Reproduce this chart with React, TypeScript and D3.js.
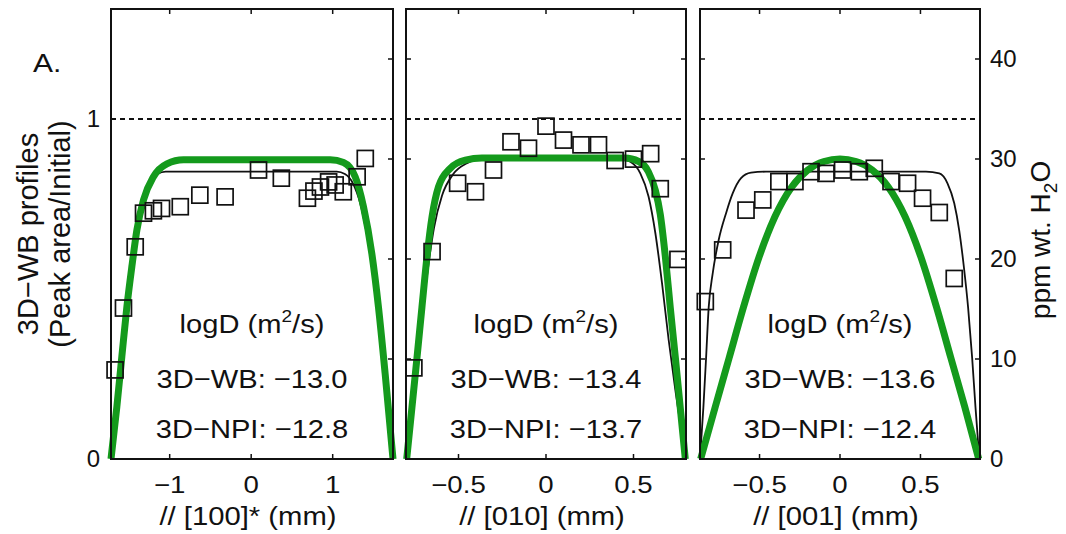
import React from 'react';
import * as d3 from 'd3';

// ---------- data ----------
const axisTitles = ['// [100]* (mm)', '// [010] (mm)', '// [001] (mm)'];
const wbLogD = ['−13.0', '−13.4', '−13.6'];
const npiLogD = ['−12.8', '−13.7', '−12.4'];
const xTicks1 = [-1, 0, 1];
const xTicks2 = [-0.5, 0, 0.5];
const xTicks3 = [-0.5, 0, 0.5];
const ppmTicks = [0, 10, 20, 30, 40];
const normTicks = [0, 1];
const initialPpm = 34;
const ppmMax = 45;

// measured profiles (x in mm, y = peak area / initial)
const squares1: [number, number][] = [
  [-1.67, 0.262], [-1.567, 0.444], [-1.423, 0.624], [-1.321, 0.723], [-1.2, 0.73],
  [-1.1, 0.737], [-0.87, 0.742], [-0.63, 0.776], [-0.32, 0.771], [0.09, 0.85],
  [0.37, 0.826], [0.69, 0.767], [0.77, 0.788], [0.85, 0.8], [0.95, 0.815],
  [1.03, 0.806], [1.13, 0.786], [1.3, 0.83], [1.4, 0.884],
];
const squares2: [number, number][] = [
  [-0.755, 0.268], [-0.651, 0.61], [-0.505, 0.811], [-0.403, 0.786], [-0.3, 0.85],
  [-0.2, 0.933], [-0.1, 0.914], [0.0, 0.979], [0.1, 0.938], [0.2, 0.924],
  [0.3, 0.924], [0.395, 0.878], [0.5, 0.882], [0.598, 0.898], [0.653, 0.795],
  [0.754, 0.587],
];
const squares3: [number, number][] = [
  [-0.837, 0.463], [-0.729, 0.615], [-0.584, 0.732], [-0.48, 0.762], [-0.38, 0.816],
  [-0.28, 0.816], [-0.18, 0.845], [-0.087, 0.84], [0.016, 0.85], [0.12, 0.845],
  [0.213, 0.855], [0.317, 0.816], [0.42, 0.811], [0.513, 0.767], [0.617, 0.725],
  [0.71, 0.531],
];

// 3D-WB model (black)
const wb1: [number, number][] = [
  [-1.72, 0], [-1.65, 0.16], [-1.59, 0.31], [-1.53, 0.455], [-1.47, 0.575], [-1.41, 0.675],
  [-1.34, 0.75], [-1.25, 0.81], [-1.15, 0.838], [-1.05, 0.845], [1.05, 0.845],
  [1.15, 0.838], [1.25, 0.81], [1.34, 0.75], [1.42, 0.66], [1.5, 0.54], [1.57, 0.41],
  [1.65, 0.23], [1.74, 0],
];
const wb2: [number, number][] = [
  [-0.8, 0], [-0.77, 0.15], [-0.735, 0.299], [-0.702, 0.446], [-0.672, 0.57], [-0.64, 0.68],
  [-0.594, 0.775], [-0.53, 0.838], [-0.451, 0.87], [-0.366, 0.882], [0.406, 0.885],
  [0.482, 0.874], [0.539, 0.84], [0.586, 0.772], [0.625, 0.664], [0.663, 0.517],
  [0.701, 0.35], [0.739, 0.203], [0.8, 0],
];
const wb3: [number, number][] = [
  [-0.87, 0], [-0.849, 0.152], [-0.832, 0.299], [-0.816, 0.446], [-0.791, 0.546],
  [-0.754, 0.644], [-0.708, 0.723], [-0.667, 0.781], [-0.615, 0.826], [-0.553, 0.842],
  [-0.46, 0.845], [0.534, 0.845], [0.617, 0.84], [0.668, 0.811], [0.71, 0.752],
  [0.741, 0.672], [0.77, 0.564], [0.796, 0.446], [0.821, 0.299], [0.842, 0.152], [0.866, 0],
];

// 3D-NPI model (green)
const npi1: [number, number][] = [
  [-1.72, 0], [-1.648, 0.154], [-1.587, 0.301], [-1.525, 0.448], [-1.464, 0.566],
  [-1.402, 0.674], [-1.321, 0.762], [-1.199, 0.83], [-1.034, 0.868], [-0.83, 0.88],
  [0.97, 0.88], [1.133, 0.872], [1.276, 0.83], [1.378, 0.742], [1.481, 0.603],
  [1.562, 0.446], [1.644, 0.25], [1.74, 0],
];
const npi2: [number, number][] = [
  [-0.796, 0], [-0.766, 0.152], [-0.737, 0.299], [-0.709, 0.446], [-0.68, 0.595],
  [-0.651, 0.713], [-0.614, 0.801], [-0.547, 0.855], [-0.461, 0.879], [-0.366, 0.885],
  [0.45, 0.885], [0.53, 0.875], [0.585, 0.845], [0.625, 0.79], [0.653, 0.72],
  [0.682, 0.595], [0.71, 0.446], [0.739, 0.299], [0.767, 0.152], [0.796, 0],
];
const npi3: [number, number][] = [
  [-0.866, 0], [-0.776, 0.152], [-0.688, 0.299], [-0.6, 0.446], [-0.502, 0.595],
  [-0.404, 0.713], [-0.3, 0.8], [-0.2, 0.85], [-0.1, 0.875], [0, 0.882], [0.1, 0.875],
  [0.2, 0.85], [0.3, 0.8], [0.404, 0.713], [0.502, 0.595], [0.6, 0.446], [0.688, 0.299],
  [0.776, 0.152], [0.862, 0],
];

// ---------- layout ----------
const W = 1066;
const H = 534;
const TOP = 9;
const BOTTOM = 459;
const FONT = '"Liberation Sans", Arial, Helvetica, sans-serif';
const GREEN = '#149a1c';
const INK = '#111';

const panels = [
  { x0: 111, x1: 393, domain: [-1.72, 1.74], ticks: xTicks1, squares: squares1, wb: wb1, npi: npi1 },
  { x0: 406, x1: 686, domain: [-0.8, 0.8], ticks: xTicks2, squares: squares2, wb: wb2, npi: npi2 },
  { x0: 700, x1: 980, domain: [-0.87, 0.87], ticks: xTicks3, squares: squares3, wb: wb3, npi: npi3 },
];

const yScale = d3.scaleLinear().domain([0, ppmMax / initialPpm]).range([BOTTOM, TOP]);
const fmt = (v: number) => String(v).replace('-', '−');

function Stretched({ x, y, sx, size, anchor = 'middle', children }: any) {
  return (
    <g transform={`translate(${x},${y}) scale(${sx},1)`}>
      <text x={0} y={0} fontSize={size} textAnchor={anchor} fontFamily={FONT} fill={INK}>
        {children}
      </text>
    </g>
  );
}

function Panel({ p, i }: any) {
  const xs = d3.scaleLinear().domain(p.domain).range([p.x0, p.x1]);
  const line = d3
    .line<[number, number]>()
    .x((d) => xs(d[0]))
    .y((d) => yScale(d[1]))
    .curve(d3.curveMonotoneX);
  const cx = (p.x0 + p.x1) / 2;
  const tickLen = 5;
  const sideTicks = ppmTicks.filter((t) => t > 0).map((t) => yScale(t / initialPpm));
  const sq = 16;
  return (
    <g>
      {/* dashed initial level */}
      <line
        x1={p.x0}
        x2={p.x1}
        y1={yScale(1)}
        y2={yScale(1)}
        stroke={INK}
        strokeWidth={2}
        strokeDasharray="5,4"
      />
      {/* models */}
      <path d={line(p.wb) || ''} fill="none" stroke={INK} strokeWidth={1.8} />
      <path d={line(p.npi) || ''} fill="none" stroke={GREEN} strokeWidth={7} strokeLinejoin="round" />
      {/* data squares */}
      {p.squares.map((d: [number, number], k: number) => (
        <rect
          key={k}
          x={xs(d[0]) - sq / 2}
          y={yScale(d[1]) - sq / 2}
          width={sq}
          height={sq}
          fill="none"
          stroke={INK}
          strokeWidth={1.7}
        />
      ))}
      {/* ticks */}
      {p.ticks.map((t: number) => (
        <g key={t}>
          <line x1={xs(t)} x2={xs(t)} y1={BOTTOM} y2={BOTTOM - tickLen} stroke={INK} strokeWidth={1.5} />
          <line x1={xs(t)} x2={xs(t)} y1={TOP} y2={TOP + tickLen} stroke={INK} strokeWidth={1.5} />
          <Stretched x={xs(t)} y={493} sx={1.15} size={24}>
            {fmt(t)}
          </Stretched>
        </g>
      ))}
      {sideTicks.map((y, k) => (
        <g key={k}>
          {i > 0 && <line x1={p.x0} x2={p.x0 + tickLen} y1={y} y2={y} stroke={INK} strokeWidth={1.5} />}
          <line x1={p.x1} x2={p.x1 - tickLen} y1={y} y2={y} stroke={INK} strokeWidth={1.5} />
        </g>
      ))}
      {i === 0 &&
        normTicks.map((t) => (
          <line key={t} x1={p.x0} x2={p.x0 + tickLen} y1={yScale(t)} y2={yScale(t)} stroke={INK} strokeWidth={1.5} />
        ))}
      {/* frame */}
      <rect x={p.x0} y={TOP} width={p.x1 - p.x0} height={BOTTOM - TOP} fill="none" stroke={INK} strokeWidth={2} />
      {/* annotations */}
      <g transform={`translate(${cx},333) scale(1.12,1)`}>
        <text textAnchor="middle" fontSize={26} fontFamily={FONT} fill={INK}>
          logD (m<tspan fontSize={17} dy={-11}>2</tspan>
          <tspan dy={11}>/s)</tspan>
        </text>
      </g>
      <Stretched x={cx} y={388} sx={1.12} size={26}>
        3D−WB: {wbLogD[i]}
      </Stretched>
      <Stretched x={cx} y={438} sx={1.12} size={26}>
        3D−NPI: {npiLogD[i]}
      </Stretched>
      {/* axis title */}
      <Stretched x={cx - 4} y={525} sx={1.17} size={25}>
        {axisTitles[i]}
      </Stretched>
    </g>
  );
}

export default function App() {
  const last = panels[2];
  return (
    <svg
      width={W}
      height={H}
      style={{ position: 'absolute', left: 0, top: 0, background: '#fff' }}
      fontFamily={FONT}
    >
      <rect x={0} y={0} width={W} height={H} fill="#fff" />
      {panels.map((p, i) => (
        <Panel key={i} p={p} i={i} />
      ))}
      {/* panel label */}
      <Stretched x={33} y={72} sx={1.2} size={25} anchor="start">
        A.
      </Stretched>
      {/* left tick labels */}
      {normTicks.map((t) => (
        <text
          key={t}
          x={100}
          y={yScale(t)}
          dy="0.35em"
          textAnchor="end"
          fontSize={24}
          fontFamily={FONT}
          fill={INK}
        >
          {t}
        </text>
      ))}
      {/* right tick labels */}
      {ppmTicks.map((t) => (
        <text
          key={t}
          x={last.x1 + 10}
          y={yScale(t / initialPpm)}
          dy="0.35em"
          textAnchor="start"
          fontSize={24}
          fontFamily={FONT}
          fill={INK}
        >
          {t}
        </text>
      ))}
      {/* left axis title */}
      <g transform="translate(38,234) rotate(-90)">
        <text textAnchor="middle" fontSize={29} fontFamily={FONT} fill={INK}>
          3D−WB profiles
        </text>
      </g>
      <g transform="translate(70,234) rotate(-90)">
        <text textAnchor="middle" fontSize={29} fontFamily={FONT} fill={INK}>
          (Peak area/Initial)
        </text>
      </g>
      {/* right axis title */}
      <g transform="translate(1050,240) rotate(-90)">
        <text textAnchor="middle" fontSize={28} fontFamily={FONT} fill={INK}>
          ppm wt. H<tspan fontSize={19} dy={7}>2</tspan>
          <tspan dy={-7}>O</tspan>
        </text>
      </g>
    </svg>
  );
}
